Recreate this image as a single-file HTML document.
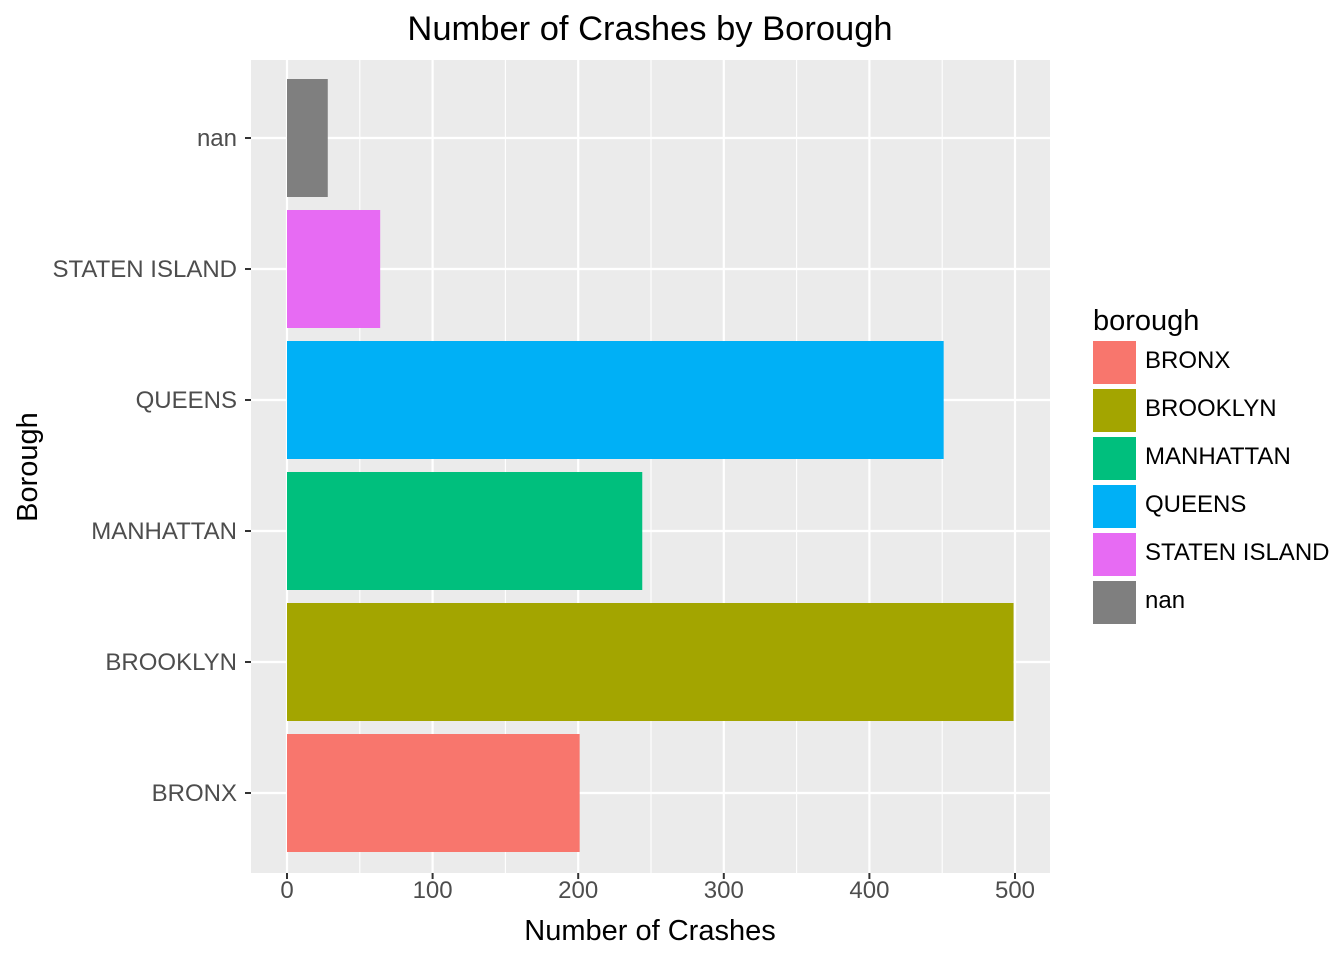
<!DOCTYPE html>
<html><head><meta charset="utf-8"><style>
body{margin:0;background:#fff;}
svg{display:block;font-family:"Liberation Sans",Arial,sans-serif;}
</style></head><body>
<svg id="chart" width="1344" height="960" xmlns="http://www.w3.org/2000/svg">
<text x="650" y="40" font-size="34.5" text-anchor="middle" fill="#000">Number of Crashes by Borough</text>
<rect x="251" y="60" width="799" height="813" fill="#ebebeb"/>
<g id="grid"></g><g id="bars"></g><g id="yaxis"></g><g id="xaxis"></g>
<text x="650" y="940" font-size="29" text-anchor="middle" fill="#000">Number of Crashes</text>
<text transform="translate(37,467) rotate(-90)" font-size="29" text-anchor="middle" fill="#000">Borough</text>
<g id="legend"><text x="1093" y="330" font-size="29" fill="#000">borough</text></g>
</svg>
<script>
const categories=["BRONX","BROOKLYN","MANHATTAN","QUEENS","STATEN ISLAND","nan"];
const values=[201,499,244,451,64,28];
const colors=["#F8766D","#A3A500","#00BF7D","#00B0F6","#E76BF3","#7F7F7F"];
const xTicks=[0,100,200,300,400,500];
const ns="http://www.w3.org/2000/svg";
const px0=251,px1=1050,py0=60,py1=873;
const x0=287,xScale=(1015-287)/500;
const X=v=>x0+v*xScale;
const band=131;
const Y=i=>793-i*band;
function mk(t,a,p){const e=document.createElementNS(ns,t);for(const k in a)e.setAttribute(k,a[k]);document.getElementById(p).appendChild(e);return e;}
for(let t=0;t<=550;t+=50){const x=X(t);if(x<px0||x>px1)continue;
const l=mk('line',{x1:x,x2:x,y1:py0,y2:py1,stroke:'#fff','stroke-width':t%100===0?2.2:1.1},'grid');

}
categories.forEach((c,i)=>{const l=mk('line',{x1:px0,x2:px1,y1:Y(i),y2:Y(i),stroke:'#fff','stroke-width':2.2},'grid');

});
categories.forEach((c,i)=>{
const r=mk('rect',{x:X(0),y:Y(i)-59,width:X(values[i])-X(0),height:118,fill:colors[i]},'bars');


const tk=mk('line',{x1:245,x2:251,y1:Y(i),y2:Y(i),stroke:'#333','stroke-width':2},'yaxis');


const t=mk('text',{x:237,y:Y(i)+8,'font-size':24,'text-anchor':'end',fill:'#4d4d4d'},'yaxis');t.textContent=c;


const ky=341+i*48;
const k=mk('rect',{x:1093,y:ky,width:43,height:43,fill:colors[i]},'legend');


const lt=mk('text',{x:1145,y:ky+27,'font-size':24,fill:'#000'},'legend');lt.textContent=c;


});
xTicks.forEach(v=>{const x=X(v);
const tk=mk('line',{x1:x,x2:x,y1:py1,y2:py1+6,stroke:'#333','stroke-width':2},'xaxis');


const t=mk('text',{x:x,y:898,'font-size':24,'text-anchor':'middle',fill:'#4d4d4d'},'xaxis');t.textContent=v;

});
</script>
</body></html>
